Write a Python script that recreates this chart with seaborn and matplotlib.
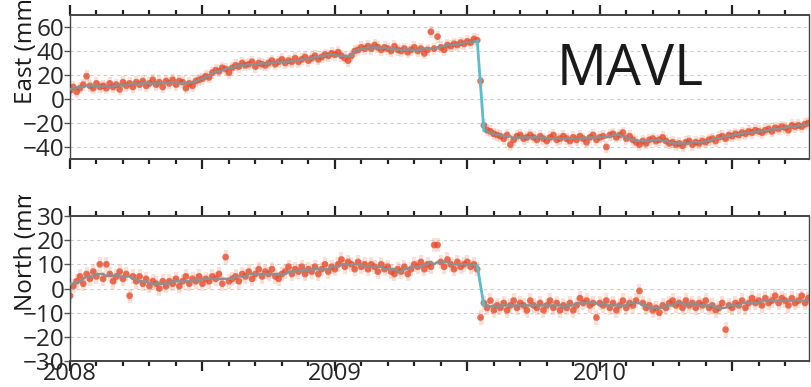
import numpy as np
import pandas as pd
import seaborn as sns
import matplotlib.pyplot as plt
from matplotlib.ticker import MultipleLocator, FuncFormatter
from matplotlib.transforms import Bbox

sns.set_theme(style='white')
plt.rcParams['font.family'] = ['Open Sans', 'DejaVu Sans']

# GPS solutions, one every 1/80 yr starting 2008.0
T0 = 2008.0
STEP = 1 / 80
QUAKE_LAST = 123   # last solution before the step
QUAKE_FIRST = 125  # first solution after the step

east = [
    7, 10, 6, 9, 12, 19, 11, 9, 13, 10,
    11, 9, 13, 10, 12, 8, 14, 11, 13, 10,
    14, 12, 15, 11, 13, 16, 12, 14, 10, 15,
    13, 16, 12, 15, 14, 9, 13, 11, 15, 16,
    17, 19, 18, 22, 24, 23, 26, 25, 22, 26,
    28, 27, 30, 28, 29, 31, 27, 30, 29, 28,
    30, 32, 29, 31, 33, 30, 32, 31, 34, 31,
    33, 35, 32, 34, 36, 33, 35, 37, 36, 38,
    37, 39, 36, 34, 32, 36, 40, 41, 43, 42,
    44, 42, 45, 43, 41, 43, 42, 40, 44, 41,
    40, 42, 39, 41, 43, 40, 42, 38, 41, 56,
    42, 52, 43, 41, 45, 44, 46, 45, 47, 46,
    48, 47, 50, 49, 15, -22, -26, -27, -29, -30,
    -31, -33, -30, -38, -34, -31, -30, -33, -32, -30,
    -32, -34, -31, -33, -35, -32, -30, -34, -33, -31,
    -33, -35, -32, -34, -31, -33, -36, -32, -30, -34,
    -32, -31, -40, -30, -29, -32, -30, -28, -33, -31,
    -34, -36, -38, -35, -37, -34, -33, -35, -34, -32,
    -35, -37, -36, -38, -37, -39, -36, -35, -38, -36,
    -37, -35, -36, -34, -33, -35, -32, -31, -33, -30,
    -31, -29, -30, -28, -29, -27, -28, -26, -27, -28,
    -26, -25, -27, -24, -25, -23, -24, -26, -22, -23,
    -22, -23, -21, -20, -21,
]

north = [
    -3, 1, 3, 5, 2, 6, 4, 7, 5, 10,
    4, 10, 6, 3, 5, 7, 4, 6, -3, 5,
    3, 5, 2, 4, 1, 3, 2, 0, 3, 1,
    3, 2, 4, 1, 3, 5, 2, 4, 3, 5,
    2, 4, 3, 5, 4, 6, 2, 13, 3, 4,
    5, 3, 6, 5, 7, 4, 6, 8, 5, 7,
    6, 8, 5, 4, 6, 7, 9, 6, 8, 7,
    9, 6, 8, 7, 9, 6, 8, 10, 7, 9,
    8, 10, 12, 9, 11, 10, 8, 11, 9, 10,
    8, 10, 9, 7, 10, 8, 9, 7, 6, 8,
    7, 9, 6, 8, 10, 9, 11, 8, 10, 9,
    18, 18, 11, 9, 12, 10, 8, 11, 9, 10,
    11, 9, 10, 8, -12, -6, -8, -5, -9, -7,
    -8, -6, -9, -7, -5, -8, -6, -7, -9, -5,
    -7, -8, -6, -9, -7, -5, -8, -6, -9, -7,
    -8, -6, -9, -7, -4, -6, -5, -7, -6, -12,
    -6, -7, -5, -8, -6, -9, -7, -5, -8, -6,
    -7, -5, -1, -6, -8, -7, -9, -8, -10, -7,
    -8, -6, -5, -7, -6, -8, -5, -7, -6, -8,
    -6, -7, -5, -8, -7, -9, -8, -6, -17, -7,
    -8, -6, -7, -5, -8, -6, -4, -6, -5, -7,
    -4, -6, -5, -3, -6, -4, -5, -7, -4, -6,
    -5, -3, -6, -4, -5,
]

east_err = 5.0
north_err = 3.0
station = 'MAVL'

POINT = '#e6492a'
ERR = '#f4a88e'
FIT = '#8f8f8f'
STEP_LINE = '#5bbccb'
FS = 17.5


def plot_component(ax, data, col, err, ylim, ystep):
    ax.errorbar(data['t'], data[col], yerr=err, xerr=0.01, fmt='none',
                ecolor=ERR, elinewidth=3, alpha=0.35, zorder=1)
    sns.scatterplot(data=data, x='t', y=col, ax=ax, color=POINT, s=24,
                    edgecolor='none', alpha=0.75, zorder=2, legend=False)

    pre = data.iloc[:QUAKE_LAST + 1]
    post = data.iloc[QUAKE_FIRST:]
    pre_fit = pre[col].rolling(7, center=True, min_periods=1).median()
    post_fit = post[col].rolling(7, center=True, min_periods=1).median()
    sns.lineplot(x=pre['t'], y=pre_fit, ax=ax, color=FIT, lw=1.8, zorder=3)
    sns.lineplot(x=post['t'], y=post_fit, ax=ax, color=FIT, lw=1.8, zorder=3)
    sns.lineplot(x=[pre['t'].iloc[-1], post['t'].iloc[0]],
                 y=[pre_fit.iloc[-1], post_fit.iloc[0]],
                 ax=ax, color=STEP_LINE, lw=2, zorder=3)

    ax.set_xlim(2008, 2010.79)
    ax.set_ylim(*ylim)
    ax.yaxis.set_major_locator(MultipleLocator(ystep))
    ax.xaxis.set_major_locator(MultipleLocator(0.5))
    ax.xaxis.set_minor_locator(MultipleLocator(0.1))
    ax.xaxis.set_major_formatter(FuncFormatter(
        lambda v, p: f'{v:.0f}' if abs(v - round(v)) < 1e-6 else ''))
    ax.tick_params(axis='x', which='both', top=True, bottom=True,
                   direction='out', color='#222222', width=1.6)
    ax.tick_params(axis='x', which='major', length=7, labelsize=17, pad=-6)
    ax.tick_params(axis='x', which='minor', length=3.5)
    ax.tick_params(axis='y', which='major', left=True, length=4, width=1,
                   color='#555555', labelsize=FS, pad=0)
    ax.yaxis.grid(True, linestyle=(0, (3, 3)), color='#cccccc', lw=0.8)
    ax.xaxis.grid(False)
    ax.set_xlabel('')
    ax.set_ylabel('')
    for side, spine in ax.spines.items():
        spine.set_color('#444444')
        spine.set_linewidth(1.4 if side in ('top', 'bottom') else 1.0)


df = pd.DataFrame({'east': east, 'north': north})
df['t'] = T0 + STEP * np.arange(len(df))

fig = plt.figure(figsize=(8.11, 3.87), dpi=100)
ax_e = fig.add_axes([70 / 811, 228 / 387, 739 / 811, 144 / 387])
ax_n = fig.add_axes([70 / 811, 26 / 387, 739 / 811, 145 / 387])

plot_component(ax_e, df, 'east', east_err, (-50, 70), 20)
plot_component(ax_n, df, 'north', north_err, (-30, 30), 10)
ax_e.tick_params(axis='x', labelbottom=False)

ax_e.text(0.659, 0.514, station, transform=ax_e.transAxes, fontsize=40,
          color='#1a1a1a', ha='left', va='baseline')

fig.text(26 / 811, (387 - 104) / 387, 'East (mm)', rotation=90,
         ha='center', va='bottom', fontsize=FS, color='#1a1a1a')
lab = fig.text(26 / 811, (387 - 311) / 387, 'North (mm)', rotation=90,
               ha='center', va='bottom', fontsize=FS, color='#1a1a1a')
lab.set_clip_box(Bbox.from_extents(0, 0, 811, 192))
lab.set_clip_on(True)

fig.savefig('out.png', dpi=100)
